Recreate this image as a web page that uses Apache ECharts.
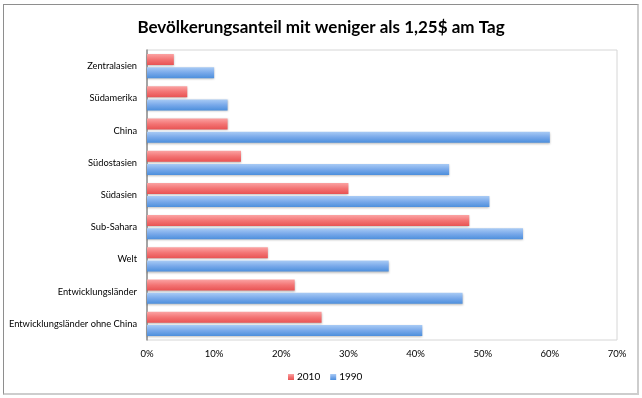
<!DOCTYPE html>
<html>
<head>
<meta charset="utf-8">
<script src="https://cdn.jsdelivr.net/npm/echarts@6/dist/echarts.min.js"></script>
<style>
  html, body { margin: 0; padding: 0; background: #fff; }
  #frame {
    position: absolute; left: 3px; top: 4px; width: 633px; height: 388px;
    border-left: 1px solid #8e8e8e; border-top: 1px solid #8e8e8e;
    border-right: 2px solid #cdcdcd; border-bottom: 2px solid #cdcdcd;
  }
  #chart { position: absolute; left: 0; top: 0; width: 642px; height: 398px; }
</style>
</head>
<body>
<div id="frame"></div>
<div id="chart"></div>
<script>
const categories = [
  "Zentralasien", "Südamerika", "China", "Südostasien", "Südasien",
  "Sub-Sahara", "Welt", "Entwicklungsländer", "Entwicklungsländer ohne China"
]
const values2010 = [4, 6, 12, 14, 30, 48, 18, 22, 26]
const values1990 = [10, 12, 60, 45, 51, 56, 36, 47, 41]
const xTicks = [0, 10, 20, 30, 40, 50, 60, 70]

const fontFam = "Lato, 'Open Sans', sans-serif"

const grad = (top, mid, bottom) => new echarts.graphic.LinearGradient(0, 0, 0, 1, [
  { offset: 0, color: top },
  { offset: 0.5, color: mid },
  { offset: 1, color: bottom }
])

const chartDom = document.getElementById("chart")
const myChart = echarts.init(chartDom)

const option = {
  animation: false,
  title: {
    text: "Bevölkerungsanteil mit weniger als 1,25$ am Tag",
    left: "center",
    top: 14,
    textStyle: { fontFamily: fontFam, fontWeight: "bold", fontSize: 17, color: "#000" }
  },
  legend: {
    bottom: 11,
    left: 283,
    itemWidth: 6,
    itemHeight: 6,
    itemGap: 10,
    icon: "rect",
    textStyle: { fontFamily: fontFam, fontSize: 10, color: "#000", padding: [0, 0, 0, -2] },
    data: ["2010", "1990"]
  },
  grid: {
    left: 147, right: 25, top: 50, bottom: 58,
    show: true, borderColor: "#d6d6d6", borderWidth: 1
  },
  xAxis: {
    type: "value",
    min: xTicks[0],
    max: xTicks[xTicks.length - 1],
    interval: 10,
    axisLine: { show: false },
    axisTick: { show: false },
    splitLine: { show: false },
    axisLabel: {
      formatter: v => v + "%",
      margin: 9,
      fontFamily: fontFam, fontSize: 9.5, color: "#000"
    }
  },
  yAxis: {
    type: "category",
    inverse: true,
    data: categories,
    axisLine: { show: true, lineStyle: { color: "#8c8c8c", width: 1.5 } },
    axisTick: { show: false },
    axisLabel: { margin: 10, fontFamily: fontFam, fontSize: 9.3, color: "#000" }
  },
  series: [
    {
      name: "2010",
      type: "bar",
      data: values2010,
      barWidth: 11,
      barGap: "20%",
      itemStyle: {
        color: grad("#fba3a3", "#f37474", "#e85353"),
        shadowColor: "rgba(0,0,0,0.25)", shadowBlur: 2, shadowOffsetY: 1
      }
    },
    {
      name: "1990",
      type: "bar",
      data: values1990,
      barWidth: 11,
      barGap: "20%",
      itemStyle: {
        color: grad("#a9cbf5", "#79a9ea", "#4d8fdc"),
        shadowColor: "rgba(0,0,0,0.25)", shadowBlur: 2, shadowOffsetY: 1
      }
    }
  ]
}

myChart.setOption(option)
</script>
</body>
</html>
